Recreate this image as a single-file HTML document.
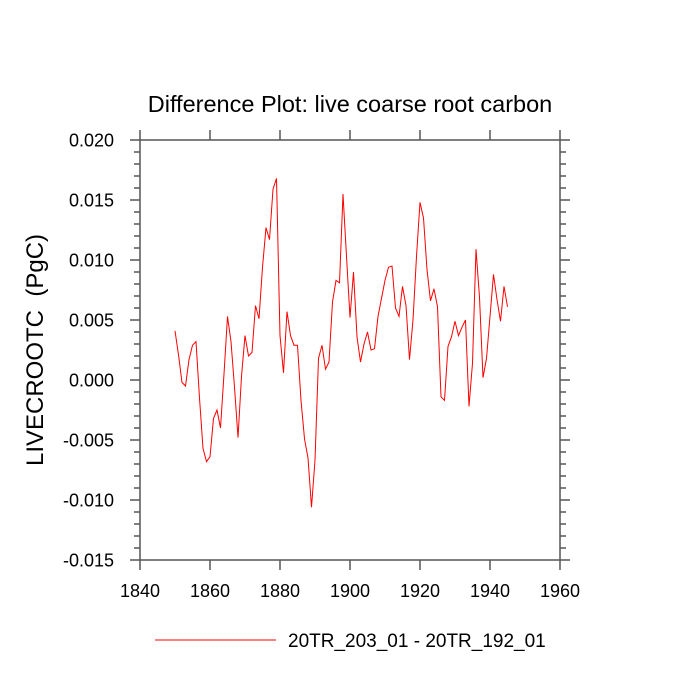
<!DOCTYPE html>
<html><head><meta charset="utf-8"><style>
body{margin:0;background:#fff}
svg{display:block;font-family:"Liberation Sans",sans-serif}
text{white-space:pre}
</style></head><body>
<svg id="c" width="700" height="700"></svg>
<script>
const years=[];for(let y=1850;y<=1945;y++)years.push(y);
const values=[0.0041,0.0021,-0.0002,-0.0005,0.0017,0.0029,0.0032,-0.0015,-0.0057,-0.0068,-0.0064,-0.0032,-0.0025,-0.0040,0.0005,0.0053,0.0032,-0.0006,-0.0048,0.0003,0.0037,0.0020,0.0023,0.0062,0.0051,0.0094,0.0127,0.0117,0.0159,0.0168,0.0037,0.0006,0.0057,0.0037,0.0029,0.0029,-0.0017,-0.0049,-0.0065,-0.0106,-0.0067,0.0018,0.0029,0.0009,0.0015,0.0065,0.0083,0.0081,0.0155,0.0103,0.0052,0.0090,0.0036,0.0015,0.0030,0.0040,0.0025,0.0026,0.0053,0.0068,0.0083,0.0094,0.0095,0.0060,0.0053,0.0078,0.0062,0.0017,0.0050,0.0103,0.0148,0.0135,0.0092,0.0066,0.0076,0.0061,-0.0014,-0.0017,0.0028,0.0036,0.0049,0.0037,0.0044,0.0050,-0.0022,0.0014,0.0109,0.0069,0.0002,0.0018,0.0053,0.0088,0.0067,0.0049,0.0078,0.0061];
const xTicks=[1840,1860,1880,1900,1920,1940,1960];
const yTicks=[0.020,0.015,0.010,0.005,0.000,-0.005,-0.010,-0.015];
const L=140,R=560,T=140,B=560,x0=1840,x1=1960,y0=-0.015,y1=0.020;
const X=v=>L+(v-x0)/(x1-x0)*(R-L);
const Y=v=>B-(v-y0)/(y1-y0)*(B-T);
const svg=document.getElementById('c');const NS='http://www.w3.org/2000/svg';
function mk(t,a,p){const e=document.createElementNS(NS,t);for(const k in a)e.setAttribute(k,a[k]);(p||svg).appendChild(e);return e;}
const g=mk('g',{stroke:'#555','stroke-width':1.5,fill:'none'});


mk('rect',{x:L,y:T,width:R-L,height:B-T},g);
xTicks.forEach(t=>{const x=X(t);mk('line',{x1:x,x2:x,y1:B,y2:B+10},g);mk('line',{x1:x,x2:x,y1:T,y2:T-10},g);
const tx=mk('text',{x:x,y:B+37,'text-anchor':'middle','font-size':18,fill:'#000'});tx.textContent=t;

});
for(let v=-15;v<=20;v++){const y=Y(v/1000);const len=v%5===0?10:6;mk('line',{x1:L,x2:L-len,y1:y,y2:y},g);mk('line',{x1:R,x2:R+len,y1:y,y2:y},g);}
yTicks.forEach(t=>{const tx=mk('text',{x:L-26,y:Y(t)+6.5,'text-anchor':'end','font-size':18,fill:'#000'});tx.textContent=t.toFixed(3);

});
const pl=mk('polyline',{points:years.map((yr,i)=>X(yr)+','+Y(values[i])).join(' '),fill:'none',stroke:'#f00','stroke-width':1});


const ti=mk('text',{x:350,y:112,'text-anchor':'middle','font-size':23.5,fill:'#000'});ti.textContent='Difference Plot: live coarse root carbon';


const yt=mk('text',{x:0,y:0,'text-anchor':'middle','font-size':24,fill:'#000',transform:'translate(43,350) rotate(-90)'});yt.textContent='LIVECROOTC  (PgC)';


const lg=mk('g',{});


mk('line',{x1:155,x2:276,y1:640,y2:640,stroke:'#f00','stroke-width':1},lg);
const lt=mk('text',{x:288,y:647,'font-size':19,fill:'#000'},lg);lt.textContent='20TR_203_01 - 20TR_192_01';
</script>
</body></html>
